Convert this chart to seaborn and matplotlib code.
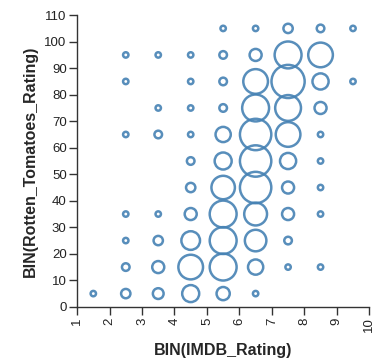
import numpy as np
import pandas as pd
import matplotlib
matplotlib.use("Agg")
import matplotlib.pyplot as plt
import seaborn as sns

# bin centres
imdb_bins = [1.5, 2.5, 3.5, 4.5, 5.5, 6.5, 7.5, 8.5, 9.5]
rt_bins = [5, 15, 25, 35, 45, 55, 65, 75, 85, 95, 105]

# counts per Rotten Tomatoes bin, one value per IMDB bin (0 = no point)
counts_rt5 = [1, 3, 4, 10, 6, 1, 0, 0, 0]
counts_rt15 = [0, 2, 5, 21, 25, 8, 1, 1, 0]
counts_rt25 = [0, 1, 3, 12, 25, 16, 2, 0, 0]
counts_rt35 = [0, 1, 1, 5, 25, 18, 5, 1, 0]
counts_rt45 = [0, 0, 0, 3, 19, 34, 5, 1, 0]
counts_rt55 = [0, 0, 0, 2, 10, 34, 9, 1, 0]
counts_rt65 = [0, 1, 2, 1, 8, 34, 21, 1, 0]
counts_rt75 = [0, 0, 1, 1, 2, 25, 23, 5, 0]
counts_rt85 = [0, 1, 0, 1, 2, 21, 38, 9, 1]
counts_rt95 = [0, 1, 1, 1, 2, 5, 25, 21, 0]
counts_rt105 = [0, 0, 0, 0, 1, 1, 3, 2, 1]

x_ticks = list(range(1, 11))
y_ticks = list(range(0, 111, 10))

rows = [counts_rt5, counts_rt15, counts_rt25, counts_rt35, counts_rt45, counts_rt55,
        counts_rt65, counts_rt75, counts_rt85, counts_rt95, counts_rt105]
recs = []
for rt, row in zip(rt_bins, rows):
    for imdb, c in zip(imdb_bins, row):
        if c > 0:
            recs.append({"IMDB": imdb, "RT": rt, "Count": c})
df = pd.DataFrame(recs)

sns.set_style("ticks")
plt.rcParams["font.family"] = ["Liberation Sans", "DejaVu Sans"]

fig = plt.figure(figsize=(3.76, 3.61), dpi=100)
ax = fig.add_axes([0.205, 0.150, 0.777, 0.808])

maxc = df["Count"].max()
sns.scatterplot(data=df, x="IMDB", y="RT", size="Count", sizes=(0, 15 * maxc),
                size_norm=(0, maxc), facecolor="none", edgecolor="#4682b4",
                linewidth=1.8, alpha=0.9, legend=False, ax=ax)

ax.set_xlim(1, 10)
ax.set_ylim(0, 110)
ax.set_xticks(x_ticks)
ax.set_yticks(y_ticks)
ax.set_xticklabels([str(t) for t in x_ticks], rotation=90, va="top", ha="center")
sns.despine(ax=ax)
for s in ["left", "bottom"]:
    ax.spines[s].set_color("#333333")
    ax.spines[s].set_linewidth(1.0)
ax.tick_params(length=5.5, width=1.0, color="#333333", labelsize=9.5, labelcolor="#222222", pad=2)
ax.set_xlabel("BIN(IMDB_Rating)", fontsize=11.5, fontweight="bold", labelpad=8)
ax.set_ylabel("BIN(Rotten_Tomatoes_Rating)", fontsize=11.5, fontweight="bold", labelpad=5)

fig.savefig("out.png", dpi=100)
